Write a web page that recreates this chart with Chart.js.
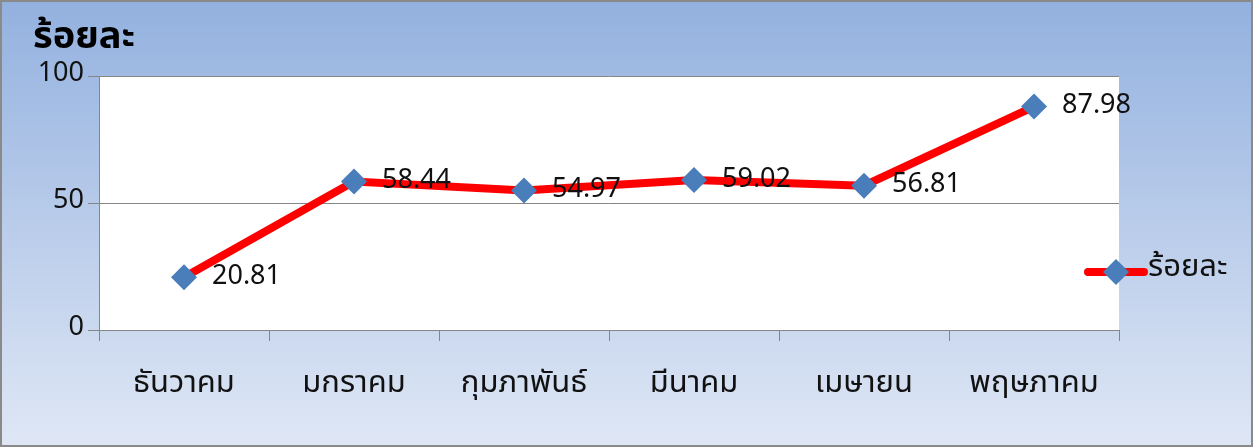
<!DOCTYPE html>
<html>
<head>
<meta charset="utf-8">
<script src="https://cdn.jsdelivr.net/npm/chart.js@4"></script>
<style>
  html, body { margin: 0; padding: 0; background: #fff; }
</style>
</head>
<body>
<canvas id="chart" width="1253" height="447"></canvas>
<script>
var months = ["ธันวาคม", "มกราคม", "กุมภาพันธ์", "มีนาคม", "เมษายน", "พฤษภาคม"];
var percent = [20.81, 58.44, 54.97, 59.02, 56.81, 87.98];
var seriesName = "ร้อยละ";
var axisTitle = "ร้อยละ";

var FONT = "Tahoma, 'Noto Sans Thai', 'Noto Sans', 'Open Sans', sans-serif";

// background, white plot area, title, data labels, legend
var decor = {
  id: "decor",
  beforeDraw: function (chart) {
    var ctx = chart.ctx, a = chart.chartArea;
    var g = ctx.createLinearGradient(0, 0, 0, chart.height);
    g.addColorStop(0, "#93b1df");
    g.addColorStop(1, "#dfe7f5");
    ctx.save();
    ctx.fillStyle = g;
    ctx.fillRect(0, 0, chart.width, chart.height);
    ctx.fillStyle = "#ffffff";
    ctx.fillRect(a.left, a.top, a.right - a.left, a.bottom - a.top);
    ctx.restore();
  },
  afterDraw: function (chart) {
    var ctx = chart.ctx;
    ctx.save();
    // title
    ctx.fillStyle = "#000";
    ctx.font = "bold 38px " + FONT;
    ctx.textBaseline = "middle";
    ctx.textAlign = "left";
    ctx.fillText(axisTitle, 33, 40);

    // data labels
    var meta = chart.getDatasetMeta(0);
    ctx.font = "27px " + FONT;
    ctx.fillStyle = "#111";
    meta.data.forEach(function (pt, i) {
      ctx.fillText(percent[i].toFixed(2), pt.x + 28, pt.y + 1);
    });

    // legend
    var ly = 272, lx = 1088;
    ctx.strokeStyle = "#ff0000";
    ctx.lineWidth = 8;
    ctx.lineCap = "round";
    ctx.beginPath();
    ctx.moveTo(lx, ly);
    ctx.lineTo(lx + 56, ly);
    ctx.stroke();
    ctx.fillStyle = "#4a7ebb";
    ctx.beginPath();
    ctx.moveTo(lx + 28, ly - 13);
    ctx.lineTo(lx + 41, ly);
    ctx.lineTo(lx + 28, ly + 13);
    ctx.lineTo(lx + 15, ly);
    ctx.closePath();
    ctx.fill();
    ctx.fillStyle = "#111";
    ctx.font = "31px " + FONT;
    ctx.fillText(seriesName, lx + 60, ly - 2);

    // outer border
    ctx.strokeStyle = "#8a8a8a";
    ctx.lineWidth = 2;
    ctx.strokeRect(1, 1, chart.width - 2, chart.height - 2);
    ctx.restore();
  }
};

new Chart(document.getElementById("chart"), {
  type: "line",
  data: {
    labels: months,
    datasets: [{
      label: seriesName,
      data: percent,
      borderColor: "#ff0000",
      borderWidth: 8,
      tension: 0,
      pointStyle: "rectRot",
      pointRadius: 13,
      pointBackgroundColor: "#4a7ebb",
      pointBorderColor: "#4a7ebb",
      pointBorderWidth: 0,
      fill: false
    }]
  },
  options: {
    responsive: false,
    animation: false,
    devicePixelRatio: 1,
    layout: { padding: { top: 76, right: 134, left: 0, bottom: 0 } },
    plugins: { legend: { display: false }, tooltip: { enabled: false } },
    scales: {
      x: {
        offset: true,
        grid: { offset: true, drawOnChartArea: false, color: "#868686", tickLength: 11 },
        border: { color: "#868686", width: 1 },
        ticks: { color: "#111", font: { family: FONT, size: 31 }, padding: 26, maxRotation: 0 },
        afterFit: function (s) { s.height = 117; }
      },
      y: {
        min: 0, max: 100,
        ticks: { stepSize: 50, color: "#111", font: { family: FONT, size: 27 }, padding: 4 },
        grid: { color: "#868686", tickLength: 11 },
        border: { color: "#868686", width: 1 },
        afterFit: function (s) { s.width = 99; }
      }
    }
  },
  plugins: [decor]
});
</script>
</body>
</html>
